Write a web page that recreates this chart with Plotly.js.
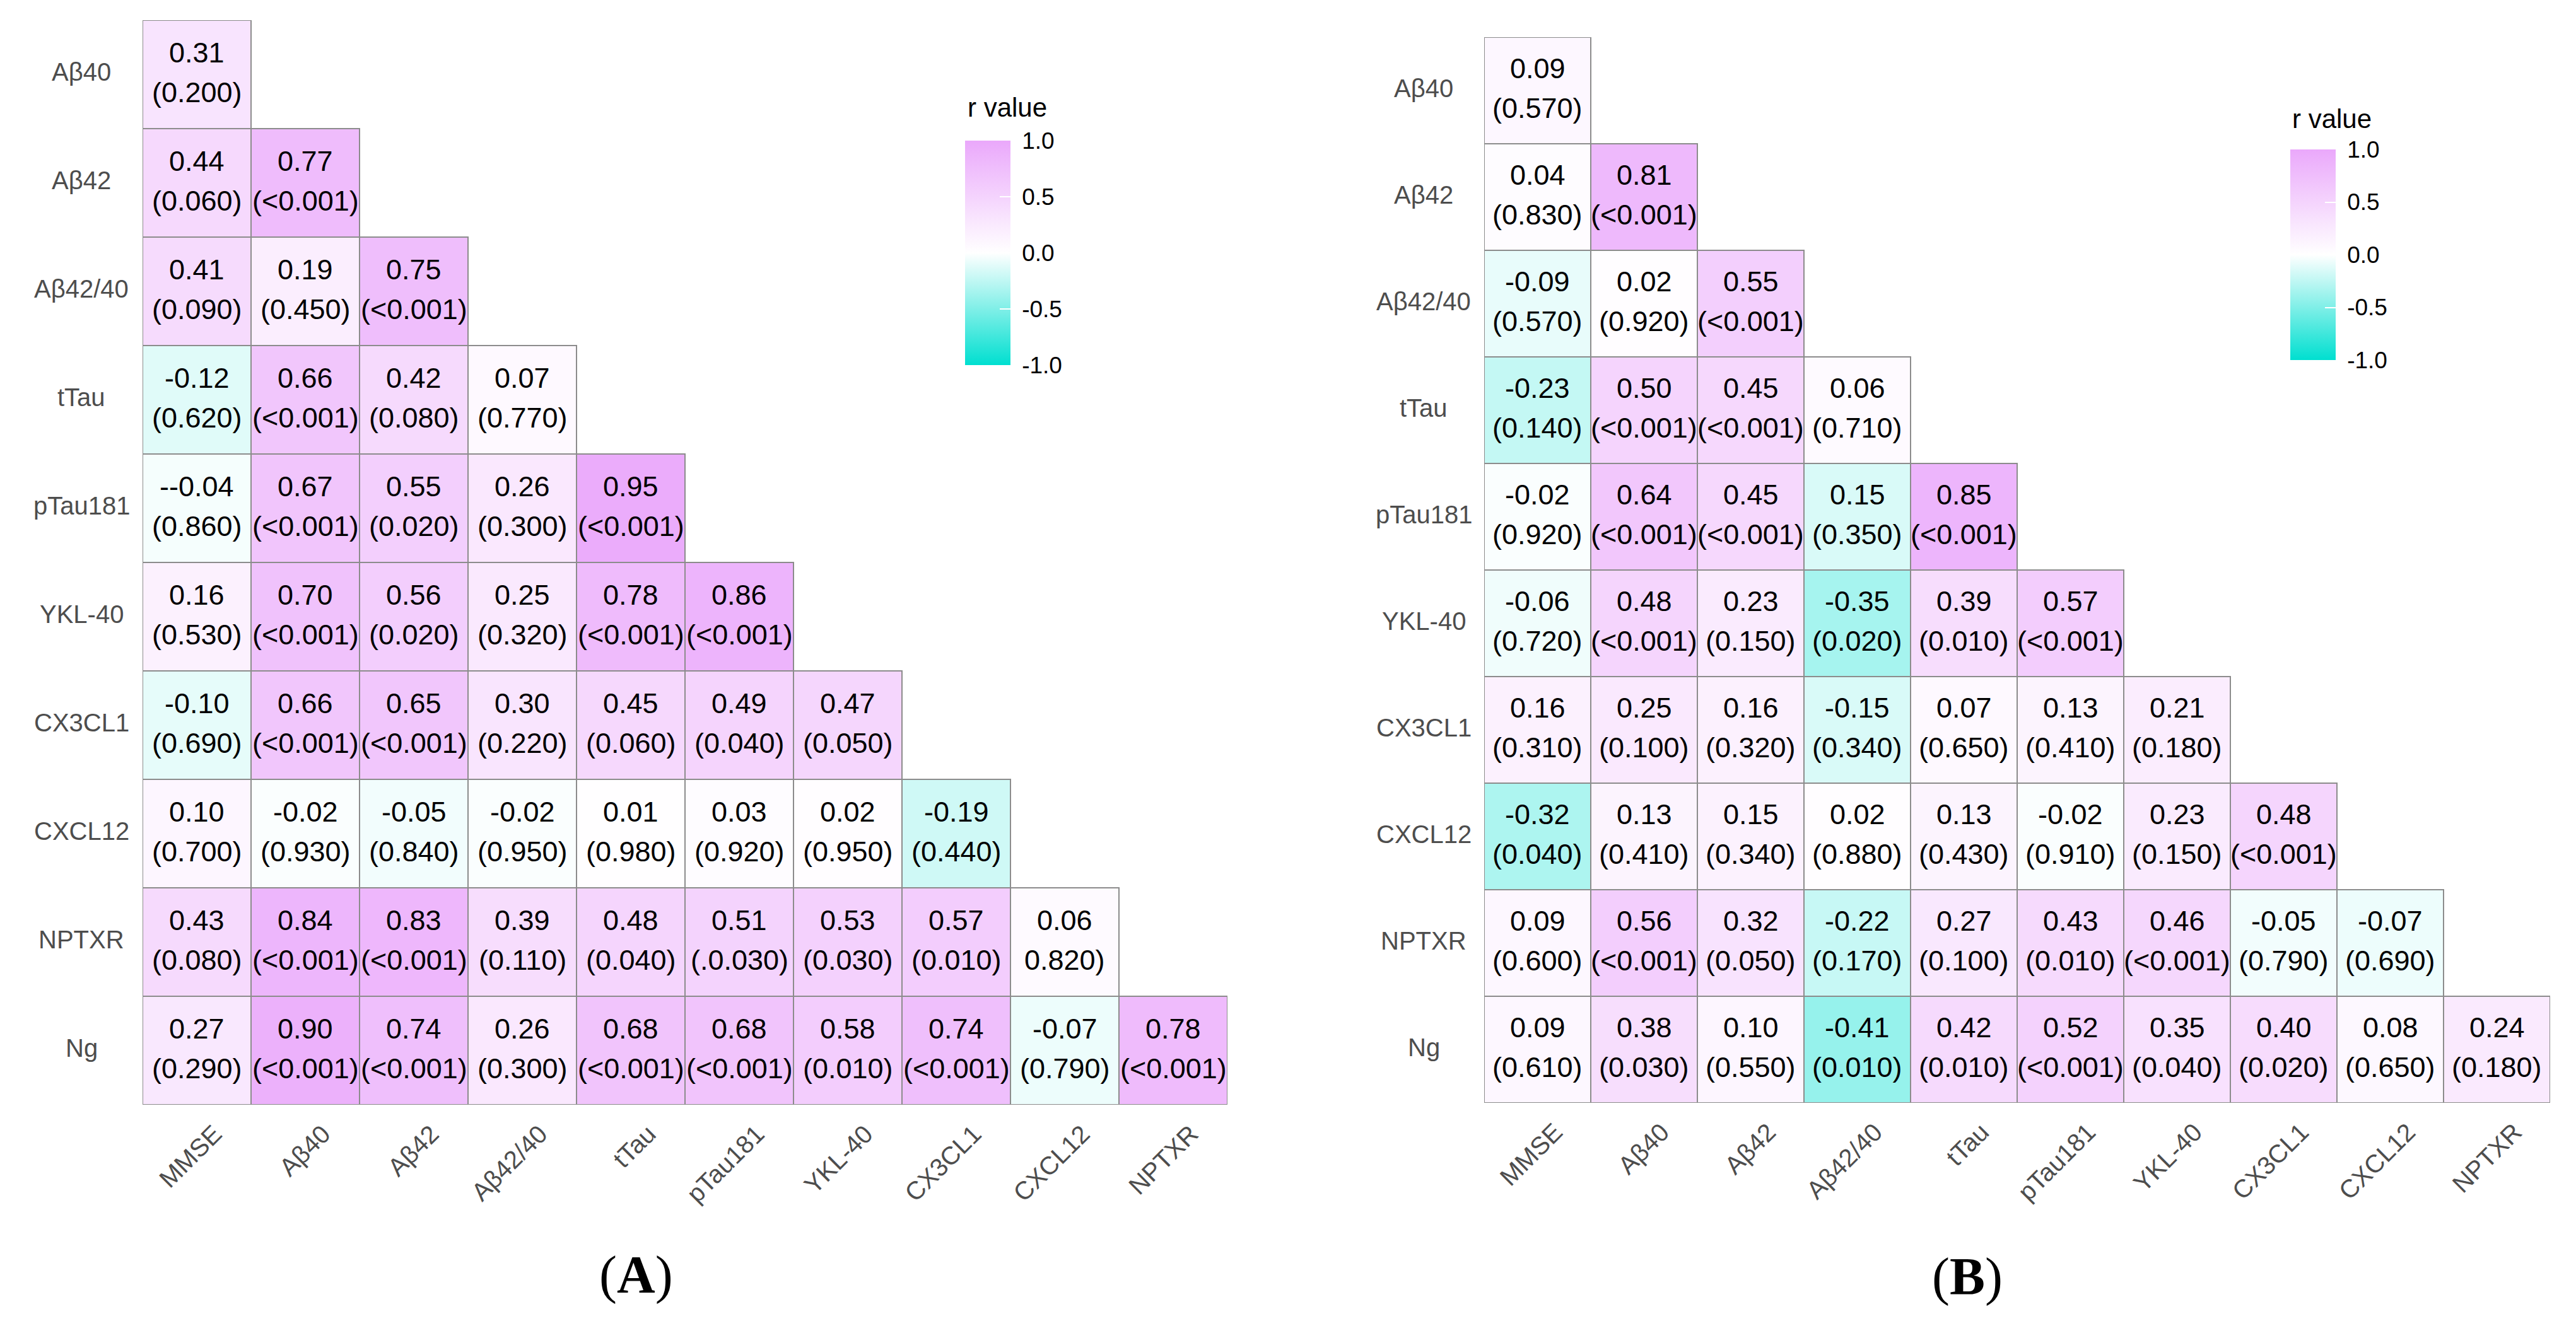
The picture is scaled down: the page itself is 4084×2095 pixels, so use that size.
<!DOCTYPE html>
<html>
<head>
<meta charset="utf-8">
<script src="https://cdn.plot.ly/plotly-3.0.1.min.js"></script>
<style>html,body{margin:0;padding:0;background:#fff;}#chart{width:4084px;height:2095px;}</style>
</head>
<body>
<div id="chart"></div>
<script>
// ---- categories ----
const xCats = ["MMSE","Aβ40","Aβ42","Aβ42/40","tTau","pTau181","YKL-40","CX3CL1","CXCL12","NPTXR"];
const yCats = ["Aβ40","Aβ42","Aβ42/40","tTau","pTau181","YKL-40","CX3CL1","CXCL12","NPTXR","Ng"];

// ---- panel A: r values (lower triangle rows) ----
const rA = [
  [0.31],
  [0.44,0.77],
  [0.41,0.19,0.75],
  [-0.12,0.66,0.42,0.07],
  [-0.04,0.67,0.55,0.26,0.95],
  [0.16,0.70,0.56,0.25,0.78,0.86],
  [-0.10,0.66,0.65,0.30,0.45,0.49,0.47],
  [0.10,-0.02,-0.05,-0.02,0.01,0.03,0.02,-0.19],
  [0.43,0.84,0.83,0.39,0.48,0.51,0.53,0.57,0.06],
  [0.27,0.90,0.74,0.26,0.68,0.68,0.58,0.74,-0.07,0.78]
];
const pA = [
  ["(0.200)"],
  ["(0.060)","(<0.001)"],
  ["(0.090)","(0.450)","(<0.001)"],
  ["(0.620)","(<0.001)","(0.080)","(0.770)"],
  ["(0.860)","(<0.001)","(0.020)","(0.300)","(<0.001)"],
  ["(0.530)","(<0.001)","(0.020)","(0.320)","(<0.001)","(<0.001)"],
  ["(0.690)","(<0.001)","(<0.001)","(0.220)","(0.060)","(0.040)","(0.050)"],
  ["(0.700)","(0.930)","(0.840)","(0.950)","(0.980)","(0.920)","(0.950)","(0.440)"],
  ["(0.080)","(<0.001)","(<0.001)","(0.110)","(0.040)","(.0.030)","(0.030)","(0.010)","0.820)"],
  ["(0.290)","(<0.001)","(<0.001)","(0.300)","(<0.001)","(<0.001)","(0.010)","(<0.001)","(0.790)","(<0.001)"]
];
// printed labels that differ from the plain number in the original
const rTextFixA = {"4,0":"--0.04"};

// ---- panel B ----
const rB = [
  [0.09],
  [0.04,0.81],
  [-0.09,0.02,0.55],
  [-0.23,0.50,0.45,0.06],
  [-0.02,0.64,0.45,-0.15,0.85],
  [-0.06,0.48,0.23,-0.35,0.39,0.57],
  [0.16,0.25,0.16,-0.15,0.07,0.13,0.21],
  [-0.32,0.13,0.15,0.02,0.13,-0.02,0.23,0.48],
  [0.09,0.56,0.32,-0.22,0.27,0.43,0.46,-0.05,-0.07],
  [0.09,0.38,0.10,-0.41,0.42,0.52,0.35,0.40,0.08,0.24]
];
const pB = [
  ["(0.570)"],
  ["(0.830)","(<0.001)"],
  ["(0.570)","(0.920)","(<0.001)"],
  ["(0.140)","(<0.001)","(<0.001)","(0.710)"],
  ["(0.920)","(<0.001)","(<0.001)","(0.350)","(<0.001)"],
  ["(0.720)","(<0.001)","(0.150)","(0.020)","(0.010)","(<0.001)"],
  ["(0.310)","(0.100)","(0.320)","(0.340)","(0.650)","(0.410)","(0.180)"],
  ["(0.040)","(0.410)","(0.340)","(0.880)","(0.430)","(0.910)","(0.150)","(<0.001)"],
  ["(0.600)","(<0.001)","(0.050)","(0.170)","(0.100)","(0.010)","(<0.001)","(0.790)","(0.690)"],
  ["(0.610)","(0.030)","(0.550)","(0.010)","(0.010)","(<0.001)","(0.040)","(0.020)","(0.650)","(0.180)"]
];
const rTextFixB = {"4,3":"0.15"};

const cbTicks = [-1,-0.5,0,0.5,1];
const cbTickText = ["-1.0","-0.5","0.0","0.5","1.0"];
const cbTitle = "r value";

// ---- styling ----
const W = 4084, H = 2095;
const px = v => v / W;
const py = v => 1 - v / H;
const FONT = "Liberation Sans, Arial, sans-serif";
const colorscale = [[0,"#00DFD0"],[0.5,"#FFFFFF"],[1,"#EAA8FB"]];

function buildZ(r){
  return yCats.map((_, i) => xCats.map((_, j) => (r[i] && j < r[i].length) ? r[i][j] : null));
}

const panels = [
  {r:rA, p:pA, fix:rTextFixA, xa:"x", ya:"y", xdom:[px(226),px(1946)], ydom:[py(1752),py(32)],
   labX:px(129), cb:{x:px(1530), y:py(401), len:356, titleX:px(1532), titleY:py(170)},
   tag:"A", tagX:px(1008), tagY:py(2022)},
  {r:rB, p:pB, fix:rTextFixB, xa:"x2", ya:"y2", xdom:[px(2353),px(4043)], ydom:[py(1749),py(59)],
   labX:px(2257), cb:{x:px(3631), y:py(404), len:334, titleX:px(3632), titleY:py(188)},
   tag:"B", tagX:px(3119), tagY:py(2025)}
];

const data = [];
const shapes = [];
const annotations = [];
const layout = {
  width: W, height: H,
  margin: {l:0, r:0, t:0, b:0},
  paper_bgcolor: "#fff", plot_bgcolor: "#fff",
  showlegend: false,
  font: {family: FONT}
};

panels.forEach((P, k) => {
  const z = buildZ(P.r);
  data.push({
    type: "heatmap", x: xCats, y: yCats, z: z,
    xaxis: P.xa, yaxis: P.ya,
    zmin: -1, zmax: 1, colorscale: colorscale,
    hoverongaps: false,
    colorbar: {
      x: P.cb.x, xanchor: "left", y: P.cb.y, yanchor: "middle",
      len: P.cb.len, lenmode: "pixels", thickness: 72, thicknessmode: "pixels",
      outlinewidth: 0, xpad: 0, ypad: 0,
      tickmode: "array", tickvals: cbTicks, ticktext: cbTickText.map(t => "\u00A0" + t),
      ticks: "inside", ticklen: 17, tickwidth: 2, tickcolor: "#ffffff",
      tickfont: {family: FONT, size: 37, color: "#000"}
    }
  });
  annotations.push({
    xref: "paper", yref: "paper", x: P.cb.titleX, y: P.cb.titleY,
    xanchor: "left", yanchor: "middle", text: cbTitle, showarrow: false,
    font: {family: FONT, size: 42, color: "#000"}
  });
  const xKey = P.xa === "x" ? "xaxis" : "xaxis2";
  const yKey = P.ya === "y" ? "yaxis" : "yaxis2";
  layout[xKey] = {
    domain: P.xdom, anchor: P.ya, type: "category",
    categoryorder: "array", categoryarray: xCats,
    range: [-0.5, xCats.length - 0.5],
    showgrid: false, zeroline: false, showline: false, ticks: "",
    tickangle: -45, ticklabelshift: 28, ticklabelstandoff: 14,
    tickfont: {family: FONT, size: 40, color: "#4D4D4D"}
  };
  layout[yKey] = {
    domain: P.ydom, anchor: P.xa, type: "category",
    categoryorder: "array", categoryarray: yCats,
    range: [yCats.length - 0.5, -0.5],
    showgrid: false, zeroline: false, showline: false, ticks: "",
    showticklabels: false
  };
  // y labels centred
  yCats.forEach((c, i) => {
    annotations.push({
      xref: "paper", yref: P.ya, x: P.labX, y: i, xanchor: "center", yanchor: "middle",
      text: c, showarrow: false, yshift: 4,
      font: {family: FONT, size: 40, color: "#4D4D4D"}
    });
  });
  // cells: borders + texts
  P.r.forEach((row, i) => {
    row.forEach((v, j) => {
      shapes.push({
        type: "rect", xref: P.xa, yref: P.ya, layer: "above",
        x0: j - 0.5, x1: j + 0.5, y0: i - 0.5, y1: i + 0.5,
        line: {color: "#8C8C8C", width: 2}, fillcolor: "rgba(0,0,0,0)"
      });
      const key = i + "," + j;
      const rText = P.fix[key] !== undefined ? P.fix[key] : v.toFixed(2);
      annotations.push({
        xref: P.xa, yref: P.ya, x: j, y: i, text: rText, showarrow: false,
        xanchor: "center", yanchor: "middle", yshift: 35,
        font: {family: FONT, size: 45, color: "#000"}
      });
      annotations.push({
        xref: P.xa, yref: P.ya, x: j, y: i, text: P.p[i][j], showarrow: false,
        xanchor: "center", yanchor: "middle", yshift: -28,
        font: {family: FONT, size: 45, color: "#000"}
      });
    });
  });
  annotations.push({
    xref: "paper", yref: "paper", x: P.tagX, y: P.tagY, xanchor: "center", yanchor: "middle",
    text: "(<b>" + P.tag + "</b>)", showarrow: false,
    font: {family: "Liberation Serif, Times New Roman, serif", size: 84, color: "#000"}
  });
});

layout.shapes = shapes;
layout.annotations = annotations;

Plotly.newPlot("chart", data, layout, {displayModeBar: false, staticPlot: true});
</script>
</body>
</html>
